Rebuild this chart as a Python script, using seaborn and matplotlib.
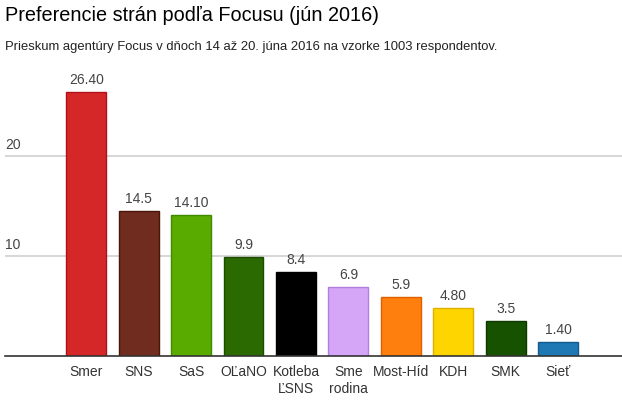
import matplotlib
matplotlib.use("Agg")
import matplotlib.pyplot as plt
import seaborn as sns
import pandas as pd

# Data
parties = ["Smer", "SNS", "SaS", "OĽaNO", "Kotleba\nĽSNS", "Sme\nrodina",
           "Most-Híd", "KDH", "SMK", "Sieť"]
support = [26.40, 14.5, 14.10, 9.9, 8.4, 6.9, 5.9, 4.80, 3.5, 1.40]
value_labels = ["26.40", "14.5", "14.10", "9.9", "8.4", "6.9", "5.9", "4.80", "3.5", "1.40"]
fill_colors = ["#d62728", "#6f2c1f", "#5aab00", "#2a6a00", "#000000",
               "#d5a6f7", "#ff7f0e", "#ffd500", "#175200", "#1f77b4"]
edge_colors = ["#b0101a", "#4a1508", "#3f8a00", "#1c4d00", "#000000",
               "#b07fe0", "#e06000", "#e0b000", "#0e3a00", "#125a90"]
y_ticks = [10, 20]

df = pd.DataFrame({"party": parties, "support": support})

sns.set_style("white")
plt.rcParams["font.family"] = ["Liberation Sans", "DejaVu Sans"]

fig = plt.figure(figsize=(6.22, 4.06), dpi=100)
ax = fig.add_axes([5 / 622, 49 / 406, 617 / 622, 280 / 406])

sns.barplot(data=df, x="party", y="support", hue="party", palette=fill_colors,
            saturation=1, legend=False, width=0.76, ax=ax, zorder=3)
for patch, ec in zip(ax.patches, edge_colors):
    patch.set_edgecolor(ec)
    patch.set_linewidth(1)

for i, (val, lab) in enumerate(zip(support, value_labels)):
    ax.text(i, val + 0.6, lab, ha="center", va="bottom", fontsize=10, color="#444444")

ax.set_xlim(-1.55, 10.22)
ax.set_ylim(0, 28)
ax.set_yticks(y_ticks)
ax.yaxis.grid(True, color="#d0d0d0", linewidth=1.2, zorder=0)
ax.tick_params(axis="y", length=0, labelleft=False)
for t in y_ticks:
    ax.text(-1.55, t + 0.5, str(t), ha="left", va="bottom", fontsize=10, color="#444444")

ax.tick_params(axis="x", length=0, labelsize=10, labelcolor="#333333", pad=6)
ax.set_xlabel("")
ax.set_ylabel("")
for side in ["top", "left", "right"]:
    ax.spines[side].set_visible(False)
ax.spines["bottom"].set_color("#333333")
ax.spines["bottom"].set_linewidth(1.2)
ax.spines["bottom"].set_zorder(4)

fig.text(5 / 622, 1 - 6 / 406, "Preferencie strán podľa Focusu (jún 2016)",
         ha="left", va="top", fontsize=14.3, color="#000000")
fig.text(5 / 622, 1 - 41 / 406,
         "Prieskum agentúry Focus v dňoch 14 až 20. júna 2016 na vzorke 1003 respondentov.",
         ha="left", va="top", fontsize=9.4, color="#222222")

fig.savefig("out.png", dpi=100)
